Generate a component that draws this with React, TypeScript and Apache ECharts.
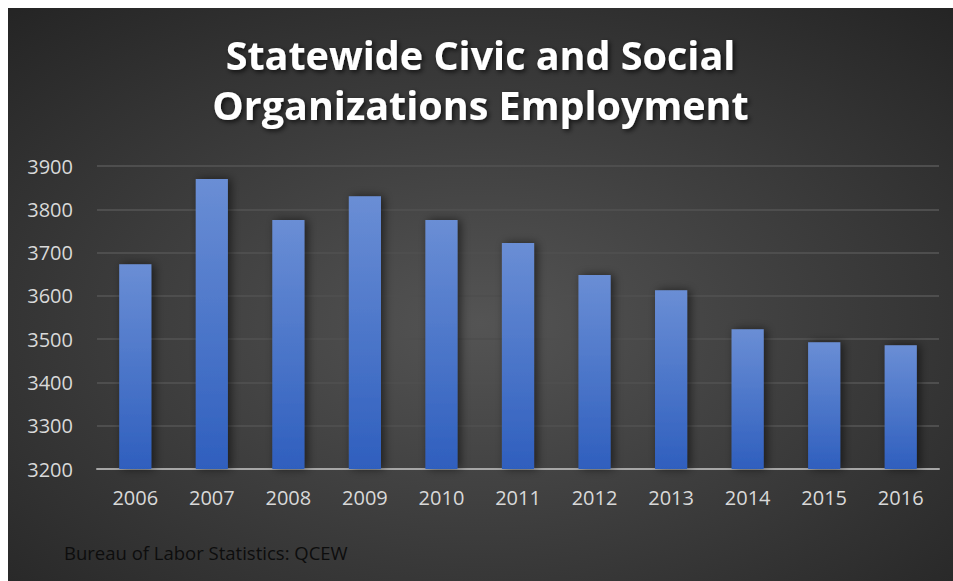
import React, { useEffect, useRef } from "react";
import * as echarts from "echarts";

const years = ["2006", "2007", "2008", "2009", "2010", "2011", "2012", "2013", "2014", "2015", "2016"];
const employment = [3673, 3870, 3775, 3830, 3775, 3722, 3648, 3613, 3523, 3493, 3486];
const titleLines = ["Statewide Civic and Social", "Organizations Employment"];
const sourceNote = "Bureau of Labor Statistics: QCEW";

export default function App() {
  const ref = useRef<HTMLDivElement>(null);
  useEffect(() => {
    if (!ref.current) return;
    const chart = echarts.init(ref.current, null, { renderer: "svg" });
    const font = "'Open Sans', 'Noto Sans', sans-serif";
    chart.setOption({
      animation: false,
      backgroundColor: {
        type: "radial",
        x: 0.5,
        y: 0.55,
        r: 0.75,
        colorStops: [
          { offset: 0, color: "#545454" },
          { offset: 1, color: "#242424" },
        ],
      },
      title: {
        text: titleLines.join("\n"),
        left: "center",
        top: 17,
        textStyle: {
          color: "#ffffff",
          fontFamily: font,
          fontWeight: "bold",
          fontSize: 39.5,
          lineHeight: 50,
          textShadowColor: "rgba(0,0,0,0.7)",
          textShadowBlur: 5,
          textShadowOffsetX: 2,
          textShadowOffsetY: 2,
        },
      },
      grid: { left: 89, right: 14, top: 158, bottom: 112 },
      xAxis: {
        type: "category",
        data: years,
        axisTick: { show: false },
        axisLine: { lineStyle: { color: "#a6a6a6", width: 2 } },
        axisLabel: { color: "#d9d9d9", fontSize: 20, fontFamily: font, margin: 18 },
      },
      yAxis: {
        type: "value",
        min: 3200,
        max: 3900,
        interval: 100,
        axisLabel: {
          color: "#d9d9d9",
          fontSize: 20,
          fontFamily: font,
          margin: 24,
          formatter: (v: number) => String(v),
        },
        splitLine: { lineStyle: { color: "#4e4e4e", width: 2 } },
        axisLine: { show: false },
        axisTick: { show: false },
      },
      series: [
        {
          type: "bar",
          data: employment,
          barCategoryGap: "58%",
          itemStyle: {
            color: {
              type: "linear",
              x: 0,
              y: 0,
              x2: 0,
              y2: 1,
              colorStops: [
                { offset: 0, color: "#6a8ed5" },
                { offset: 1, color: "#2f5fbe" },
              ],
            },
            shadowColor: "rgba(0,0,0,0.55)",
            shadowBlur: 10,
            shadowOffsetX: 3,
            shadowOffsetY: 0,
          },
        },
      ],
      graphic: [
        {
          type: "text",
          left: 56,
          top: 535,
          style: { text: sourceNote, fill: "#0d0d0d", fontSize: 18.5, fontFamily: font },
        },
      ],
    });
    return () => chart.dispose();
  }, []);
  return (
    <div
      ref={ref}
      style={{
        position: "absolute",
        left: 8,
        top: 8,
        width: "calc(100vw - 8px)",
        height: "calc(100vh - 8px)",
      }}
    />
  );
}
